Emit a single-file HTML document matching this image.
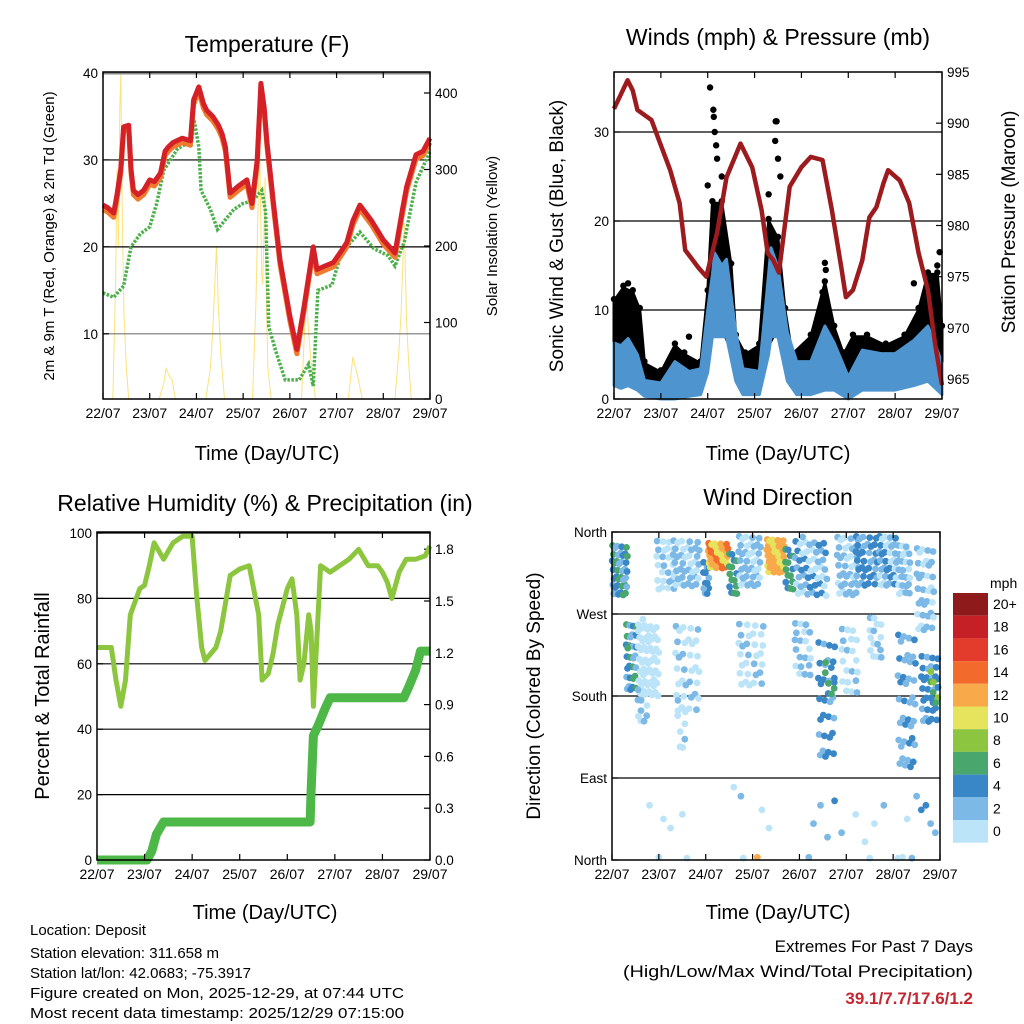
<!DOCTYPE html>
<html><head><meta charset="utf-8"><style>
html,body{margin:0;padding:0;background:#fff}
svg{display:block;font-family:"Liberation Sans",Arial,sans-serif}
</style></head><body>
<svg id="svg" width="1024" height="1024" viewBox="0 0 1024 1024">
<g id="g1"></g>
<g id="g2"></g>
<g id="g3"></g>
<g id="g4"></g>
<text x="267" y="52" font-size="23" text-anchor="middle">Temperature (F)</text>
<text x="778" y="45" font-size="23" text-anchor="middle">Winds (mph) &amp; Pressure (mb)</text>
<text x="265" y="511" font-size="23" text-anchor="middle">Relative Humidity (%) &amp; Precipitation (in)</text>
<text x="778" y="505" font-size="23" text-anchor="middle">Wind Direction</text>
<text transform="translate(54,236) rotate(-90)" font-size="15" text-anchor="middle">2m &amp; 9m T (Red, Orange) &amp; 2m Td (Green)</text>
<text transform="translate(497,236) rotate(-90)" font-size="15" text-anchor="middle">Solar Insolation (Yellow)</text>
<text transform="translate(563,236) rotate(-90)" font-size="19" text-anchor="middle">Sonic Wind &amp; Gust (Blue, Black)</text>
<text transform="translate(1015,222) rotate(-90)" font-size="19" text-anchor="middle">Station Pressure (Maroon)</text>
<text transform="translate(49,696) rotate(-90)" font-size="20" text-anchor="middle">Percent &amp; Total Rainfall</text>
<text transform="translate(540,696) rotate(-90)" font-size="19" text-anchor="middle">Direction (Colored By Speed)</text>
<text x="267" y="460" font-size="20" text-anchor="middle">Time (Day/UTC)</text>
<text x="778" y="460" font-size="20" text-anchor="middle">Time (Day/UTC)</text>
<text x="265" y="919" font-size="20" text-anchor="middle">Time (Day/UTC)</text>
<text x="778" y="919" font-size="20" text-anchor="middle">Time (Day/UTC)</text>
<g font-size="15">
<text x="30" y="935">Location: Deposit</text>
<text x="30" y="958">Station elevation: 311.658 m</text>
<text x="30" y="978">Station lat/lon: 42.0683; -75.3917</text>
<text x="30" y="998" textLength="374" lengthAdjust="spacingAndGlyphs">Figure created on Mon, 2025-12-29, at 07:44 UTC</text>
<text x="30" y="1018" textLength="374" lengthAdjust="spacingAndGlyphs">Most recent data timestamp: 2025/12/29 07:15:00</text>
</g>
<text x="973" y="952" font-size="17" text-anchor="end">Extremes For Past 7 Days</text>
<text x="973" y="977" font-size="17" text-anchor="end" textLength="350" lengthAdjust="spacingAndGlyphs">(High/Low/Max Wind/Total Precipitation)</text>
<text x="973" y="1004" font-size="17" font-weight="bold" fill="#c62630" text-anchor="end">39.1/7.7/17.6/1.2</text>
</svg>
<script>
// ---------- data ----------
const dayLabels=["22/07","23/07","24/07","25/07","26/07","27/07","28/07","29/07"];
const tempTimes=[0,0.1,0.23,0.3,0.38,0.44,0.55,0.6,0.65,0.75,0.87,1.0,1.1,1.23,1.33,1.4,1.5,1.7,1.87,1.94,2.05,2.15,2.22,2.35,2.47,2.55,2.62,2.72,2.9,3.08,3.19,3.3,3.38,3.45,3.51,3.65,3.79,4.0,4.15,4.3,4.5,4.58,4.75,4.93,5.1,5.22,5.35,5.5,5.75,6.0,6.25,6.4,6.5,6.7,6.85,6.96,7.0];
const tempRed=[24.8,24.5,23.9,26,29,33.8,34,29,26.5,26,26.5,27.7,27.5,28.5,31,31.5,32,32.5,32.2,36.9,38.4,36.5,35.7,35,34,33,31.5,26.2,27,27.7,25,30,38.8,36,32,25,18.5,12,8.2,13,20,17.4,17.8,18.2,19.5,20.5,23,24.8,23,20.8,19.3,24,26.9,30.6,31,32.1,32.5];
const dewTimes=[0,0.23,0.44,0.6,0.8,1.0,1.15,1.3,1.6,1.9,1.95,2.05,2.1,2.3,2.45,2.6,2.8,3.0,3.2,3.4,3.48,3.55,3.7,3.9,4.2,4.4,4.5,4.6,4.9,5.1,5.3,5.5,5.8,6.1,6.25,6.45,6.7,7.0];
const dewGreen=[14.7,14.2,15.5,20,21.5,22.3,25,28.8,31.3,32.2,34.6,31.5,26.5,24.3,22,23,24.3,25,25.3,26.5,24,10.8,8,4.7,4.7,6.5,4,15,15.6,19.3,20.5,21.7,19.8,19,17.8,20.6,27.4,31];
const solarTimes=[0,0.21,0.27,0.3,0.33,0.36,0.38,0.41,0.45,0.5,0.55,1.2,1.3,1.35,1.42,1.48,1.55,2.2,2.3,2.35,2.43,2.47,2.52,2.6,3.2,3.27,3.3,3.35,3.4,3.42,3.47,3.5,3.53,3.6,4.25,4.35,4.4,4.45,4.55,5.25,5.35,5.45,5.55,6.25,6.33,6.38,6.45,6.5,6.55,6.6,7.0];
const solarVals=[0,0,150,300,200,380,426,250,110,40,0,0,20,40,30,25,0,0,40,90,200,120,60,0,0,120,200,335,160,150,290,120,40,0,0,140,90,50,0,0,55,30,0,0,60,110,230,100,40,0,0];
const presTimes=[0,0.29,0.4,0.5,0.8,0.97,1.2,1.4,1.52,1.8,1.97,2.2,2.4,2.7,2.95,3.15,3.28,3.4,3.52,3.75,4.0,4.2,4.45,4.65,4.85,4.95,5.1,5.3,5.45,5.6,5.75,5.85,6.1,6.3,6.5,6.7,6.85,7.0];
const presVals=[991.4,994.2,993.2,991.3,990.3,988.2,985.4,982.2,977.6,975.9,975,979.3,984.7,988,985.7,981.5,977.3,976.6,975.4,983.8,985.7,986.7,986.4,981.5,975.9,973,973.7,976.6,980.8,981.8,984.1,985.4,984.4,982.2,977.3,973.7,968.5,964.4];
const windTimes=[0,0.15,0.3,0.5,0.65,1.0,1.3,1.6,1.85,2.0,2.1,2.15,2.3,2.4,2.6,2.75,3.1,3.3,3.35,3.5,3.7,3.9,4.2,4.5,4.7,5.0,5.3,5.7,6.0,6.4,6.7,6.9,7.0];
const windHi=[6.3,6,6.8,5,2.1,1.8,4.2,3.1,3.4,10,14,16.4,15,15.7,7.5,3.4,3.1,14,17,14.8,7.5,4.2,4.2,8.2,6.3,2.5,5.5,5.1,5.1,6.6,8.2,5.5,4];
const windLo=[1.5,1.2,1.5,1,0.3,0,0,0.3,0.5,3,7,7,7,7,2,0.5,0.5,5,7,7,2,0.5,0.5,1,1,0,1,1,1,1.5,2,1,0.5];
const gustTimes=[0,0.2,0.4,0.55,0.65,1.0,1.3,1.5,1.85,2.0,2.1,2.3,2.5,2.6,2.8,3.1,3.3,3.5,3.65,3.8,4.2,4.5,4.7,4.9,5.1,5.4,5.8,6.2,6.5,6.7,6.9,7.0];
const gustHi=[11,12.5,12,10,4,3,6,5,4,12,22,22,15,7,5,6,20,18,10,5,7,13,8,5,7,7,6,7,10,14,14,8];
const gustOutT=[2.05,2.12,2.13,2.15,2.18,2.2,2.3,2.0,3.45,3.47,3.44,3.5,3.55,3.3,4.5,4.52,4.45,6.4,6.95,6.9,0.3,1.6];
const gustOutV=[35,32.5,31.7,30,28.5,27,25,24,31.2,31.2,29,27,25,23,15.3,14.5,12,13,16.5,15,13,7];
const rhTimes=[0,0.3,0.4,0.5,0.6,0.7,0.9,1.0,1.1,1.2,1.4,1.6,1.8,2.0,2.1,2.2,2.27,2.5,2.6,2.8,3.0,3.2,3.4,3.47,3.6,3.7,3.8,4.0,4.1,4.2,4.27,4.35,4.45,4.5,4.55,4.7,4.9,5.1,5.3,5.5,5.7,5.9,6.0,6.1,6.2,6.35,6.5,6.7,6.9,7.0];
const rhVals=[65,65,55,47,55,75,83,84,90,97,92,97,99,99,80,65,61,65,70,87,89,90,75,55,57,63,72,83,86,75,55,60,75,70,47,90,88,90,92,95,90,90,88,85,80,88,92,92,93,96];
const rainTimes=[0,1.05,1.15,1.25,1.4,4.48,4.5,4.55,4.65,4.8,4.9,6.45,6.55,6.7,6.8,7.0];
const rainVals=[0,0,0.05,0.15,0.22,0.22,0.4,0.72,0.78,0.88,0.94,0.94,1.0,1.1,1.21,1.21];
// wind direction clusters (time range in days, direction range in degrees, typical speed mph, number of obs)
const clusterStart=[0.0,0.3,0.55,0.55,0.95,1.3,1.35,1.4,1.95,2.05,2.5,2.7,2.7,3.3,3.7,3.9,3.9,4.4,4.55,4.8,4.9,5.2,5.5,5.7,6.1,6.1,6.5,6.6,6.8];
const clusterEnd=[0.35,0.55,1.0,0.8,1.4,1.9,1.9,1.6,2.1,2.5,2.7,3.2,3.3,3.7,3.9,4.6,4.3,4.8,4.8,5.3,5.3,5.7,5.8,6.1,6.4,6.5,6.9,7.0,7.0];
const clusterDegLo=[290,185,180,150,295,300,160,120,290,320,290,300,190,315,295,290,200,110,180,290,180,300,220,300,290,100,250,150,170];
const clusterDegHi=[350,265,265,190,355,355,265,180,330,350,340,360,265,355,345,355,265,250,220,360,260,360,270,360,350,260,350,230,210];
const clusterSpeed=[5,5,0.5,2,1.5,2.5,1,1,4.5,13,6,2.5,1,12,6,3,2,4,6,2.5,1.5,4,1.5,3,2,3.5,2.5,4.5,7];
const clusterCount=[40,30,55,10,25,40,35,8,12,40,15,40,30,40,15,50,20,30,8,40,20,35,15,35,25,40,35,30,10];
const lowTimes=[0.8,1.1,1.25,1.5,2.6,2.75,3.2,3.35,4.3,4.45,4.6,4.75,4.9,5.2,5.4,5.6,5.8,6.3,6.5,6.6,6.7,6.8,6.9,1.0,1.6,2.8,3.1,4.2,5.5,6.1,6.2,6.4];
const lowDegs=[60,45,35,50,80,70,55,35,40,60,25,65,30,50,20,40,60,45,70,55,60,40,30,3,2,2,3,3,2,2,3,2];
const lowSpeeds=[0,0,1,0,1,2,0,1,3,3,2,4,2,1,0,1,2,1,3,4,4,3,2,0,0,1,13,2,1,0,1,2];
const legendLabels=["20+","18","16","14","12","10","8","6","4","2","0"];
const legendColors=["#8e1a1c","#c42026","#e33b2c","#f26b2c","#f8a94a","#e6e35c","#8cc540","#49a66c","#3a87c8","#7db9e6","#bce4f9"];
const NS="http://www.w3.org/2000/svg";
function mk(parent,tag,attrs){const e=document.createElementNS(NS,tag);for(const k in attrs)e.setAttribute(k,attrs[k]);parent.appendChild(e);return e;}
function lin(d0,d1,r0,r1){return v=>r0+(v-d0)*(r1-r0)/(d1-d0);}
function pts(ts,vs,sx,sy){return ts.map((t,i)=>sx(t).toFixed(1)+","+sy(vs[i]).toFixed(1)).join(" ");}
function frame(g,L,T,R,B,name){
  const r=mk(g,"rect",{x:L,y:T,width:R-L,height:B-T,fill:"none",stroke:"#000","stroke-width":1.5});
  
  
  const sx=lin(0,7,L,R);
  for(let d=0;d<=7;d++){
    const x=sx(d);
    mk(g,"line",{x1:x,y1:B,x2:x,y2:B-6,stroke:"#000","stroke-width":1.2});
    mk(g,"line",{x1:x,y1:T,x2:x,y2:T+6,stroke:"#000","stroke-width":1.2});
    const t=mk(g,"text",{x:x,y:B+19,"font-size":14,"text-anchor":"middle"});
    t.textContent=dayLabels[d];
    
    
  }
  return sx;
}
function yTicks(g,x,sy,vals,labels,side,name,grid,L,R,gridColor){
  vals.forEach((v,i)=>{
    const y=sy(v);
    if(grid&&v!==grid.skip)mk(g,"line",{x1:L,y1:y,x2:R,y2:y,stroke:gridColor?gridColor(v):"#000","stroke-width":1.2});
    mk(g,"line",{x1:x,y1:y,x2:x+(side<0?6:-6),y2:y,stroke:"#000","stroke-width":1.2});
    const t=mk(g,"text",{x:x+(side<0?-5:5),y:y+5,"font-size":13.5,"text-anchor":side<0?"end":"start"});
    t.textContent=labels[i];
    
    
  });
}
// ---------- panel 1 temperature ----------
(function(){
  const g=document.getElementById("g1");
  const L=103,T=72,R=430,B=399;
  const sx=lin(0,7,L,R), sy=lin(40,2.5,73,399), ss=lin(0,400,399,93);
  const sol=mk(g,"polyline",{points:pts(solarTimes,solarVals,sx,ss),fill:"none",stroke:"#fbe27a","stroke-width":1});
  
  
  yTicks(g,L,sy,[40,30,20,10],["40","30","20","10"],-1,'temp-y-tick-label',{skip:40},L,R,v=>v===10?"#777":"#000");
  yTicks(g,R,ss,[400,300,200,100,0],["400","300","200","100","0"],1,'solar-y-tick-label',null,L,R);
  mk(g,"line",{x1:L,y1:73.5,x2:R,y2:73.5,stroke:"#888","stroke-width":2});
  const dew=mk(g,"polyline",{points:pts(dewTimes,dewGreen,sx,sy),fill:"none",stroke:"#4bb04a","stroke-width":3.5,"stroke-dasharray":"2.5 1.5"});
  
  
  const ora=mk(g,"polyline",{points:pts(tempTimes,tempRed.map(v=>v-0.5),sx,sy),fill:"none",stroke:"#f07a2e","stroke-width":5,"stroke-linejoin":"round"});
  
  
  const red=mk(g,"polyline",{points:pts(tempTimes,tempRed,sx,sy),fill:"none",stroke:"#d42027","stroke-width":5,"stroke-linejoin":"round"});
  
  
  frame(g,L,T,R,B,'temperature');
})();
// ---------- panel 2 winds ----------
(function(){
  const g=document.getElementById("g2");
  const L=614,T=72,R=942,B=399;
  const sx=lin(0,7,L,R), sy=lin(0,10,399,310), sp=lin(965,995,379,72);
  yTicks(g,L,sy,[0,10,20,30],["0","10","20","30"],-1,'wind-y-tick-label',{skip:0},L,R);
  yTicks(g,R,sp,[965,970,975,980,985,990,995],["965","970","975","980","985","990","995"],1,'pressure-y-tick-label',null,L,R);
  const loAt=t=>{for(let i=1;i<windTimes.length;i++){if(t<=windTimes[i]){const f=(t-windTimes[i-1])/(windTimes[i]-windTimes[i-1]);return windLo[i-1]+f*(windLo[i]-windLo[i-1]);}}return windLo[windLo.length-1];};
  const gp=gustTimes.map((t,i)=>sx(t).toFixed(1)+","+sy(gustHi[i]).toFixed(1)).join(" ")+" "+gustTimes.slice().reverse().map(t=>sx(t).toFixed(1)+","+sy(loAt(t)+1).toFixed(1)).join(" ");
  const gb=mk(g,"polygon",{points:gp,fill:"#000",stroke:"#000","stroke-width":3,"stroke-linejoin":"round"});
  
  
  gustTimes.forEach((t,i)=>{
    const c=mk(g,"circle",{cx:sx(t),cy:sy(gustHi[i])-2,r:3.2,fill:"#000"});
    
    
  });
  gustOutT.forEach((t,i)=>{
    const c=mk(g,"circle",{cx:sx(t),cy:sy(gustOutV[i]),r:3.2,fill:"#000"});
    
    
  });
  const wp=windTimes.map((t,i)=>sx(t).toFixed(1)+","+sy(windHi[i]).toFixed(1)).join(" ")+" "+windTimes.slice().reverse().map((t,j)=>{const i=windTimes.length-1-j;return sx(t).toFixed(1)+","+sy(windLo[i]).toFixed(1);}).join(" ");
  const wb=mk(g,"polygon",{points:wp,fill:"#4e95d0",stroke:"#4e95d0","stroke-width":3,"stroke-linejoin":"round"});
  
  
  const pl=mk(g,"polyline",{points:pts(presTimes,presVals,sx,sp),fill:"none",stroke:"#9c1b1f","stroke-width":4.5,"stroke-linejoin":"round"});
  
  
  frame(g,L,T,R,B,'winds');
})();
// ---------- panel 3 humidity ----------
(function(){
  const g=document.getElementById("g3");
  const L=97,T=532,R=430,B=860;
  const sx=lin(0,7,L,R), sy=lin(0,100,860,533), sr=lin(0,0.3,860,808.2);
  yTicks(g,L,sy,[0,20,40,60,80,100],["0","20","40","60","80","100"],-1,'rh-y-tick-label',{skip:0},L,R);
  yTicks(g,R,sr,[0,0.3,0.6,0.9,1.2,1.5,1.8],["0.0","0.3","0.6","0.9","1.2","1.5","1.8"],1,'rain-y-tick-label',null,L,R);
  const rh=mk(g,"polyline",{points:pts(rhTimes,rhVals,sx,sy),fill:"none",stroke:"#8cc63f","stroke-width":5,"stroke-linejoin":"round"});
  
  
  const rn=mk(g,"polyline",{points:pts(rainTimes,rainVals,sx,sr),fill:"none",stroke:"#4db848","stroke-width":9,"stroke-linejoin":"round"});
  
  
  frame(g,L,T,R,B,'humidity');
})();
// ---------- panel 4 direction ----------
(function(){
  const g=document.getElementById("g4");
  const L=612,T=532,R=940,B=860;
  const sx=lin(0,7,L,R), sy=lin(0,360,860,532);
  yTicks(g,L,sy,[0,90,180,270,360],["North","East","South","West","North"],-1,'direction-y-tick-label',{skip:-1},L,R,v=>(v===0||v===360)?"none":"#000");
  const col=s=>legendColors[10-Math.max(0,Math.min(10,Math.floor(s/2)))];
  function dot(t,d,s){
    const c=mk(g,"circle",{cx:sx(t).toFixed(1),cy:sy(d).toFixed(1),r:3.4,fill:col(s)});
    
    
  }
  clusterStart.forEach((t0,c)=>{
    const n=clusterCount[c];
    for(let k=0;k<n;k++){
      const u=(0.5+(k+1)*0.7548776662)%1, v=(0.5+(k+1)*0.5698402910)%1;
      const t=t0+u*(clusterEnd[c]-t0);
      const d=clusterDegLo[c]+v*(clusterDegHi[c]-clusterDegLo[c]);
      dot(t,d,clusterSpeed[c]+((k%3)-1)*1.2);
    }
  });
  lowTimes.forEach((t,i)=>dot(t,lowDegs[i],lowSpeeds[i]));
  frame(g,L,T,R,B,'direction');
  const lg=mk(g,"g",{});
  
  
  const lt=mk(lg,"text",{x:990,y:588,"font-size":14});
  lt.textContent="mph";
  
  
  legendLabels.forEach((lab,i)=>{
    const y=593+i*22.7;
    const r=mk(lg,"rect",{x:953,y:y,width:35,height:22.7,fill:legendColors[i]});
    
    
    const t=mk(lg,"text",{x:993,y:y+16,"font-size":14});
    t.textContent=lab;
    
    
  });
})();
</script>
</body></html>
